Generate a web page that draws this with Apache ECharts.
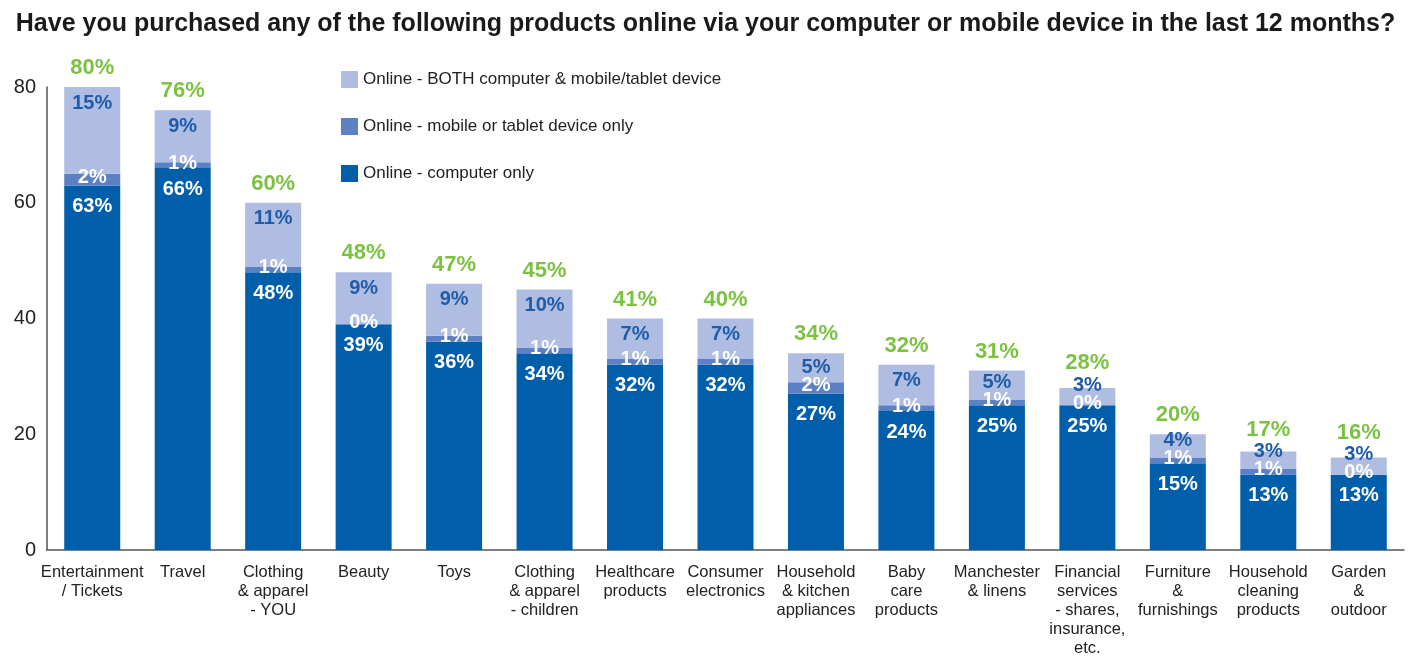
<!DOCTYPE html>
<html>
<head>
<meta charset="utf-8">
<script src="https://cdn.jsdelivr.net/npm/echarts@6/dist/echarts.min.js"></script>
<style>html,body{margin:0;padding:0;background:#fff}#c{width:1411px;height:660px}</style>
</head>
<body>
<div id="c"></div>
<script>
const categories = [
  'Entertainment\n/ Tickets', 'Travel', 'Clothing\n& apparel\n- YOU', 'Beauty', 'Toys',
  'Clothing\n& apparel\n- children', 'Healthcare\nproducts', 'Consumer\nelectronics',
  'Household\n& kitchen\nappliances', 'Baby\ncare\nproducts', 'Manchester\n& linens',
  'Financial\nservices\n- shares,\ninsurance,\netc.', 'Furniture\n&\nfurnishings',
  'Household\ncleaning\nproducts', 'Garden\n&\noutdoor'
];
const computerOnly = [63, 66, 48, 39, 36, 34, 32, 32, 27, 24, 25, 25, 15, 13, 13];
const mobileOnly   = [2, 1, 1, 0, 1, 1, 1, 1, 2, 1, 1, 0, 1, 1, 0];
const bothDevices  = [15, 9, 11, 9, 9, 10, 7, 7, 5, 7, 5, 3, 4, 3, 3];
const totals       = [80, 76, 60, 48, 47, 45, 41, 40, 34, 32, 31, 28, 20, 17, 16];
const yTicks = [0, 20, 40, 60, 80];

const NAME_BOTH = 'Online - BOTH computer & mobile/tablet device';
const NAME_MOB = 'Online - mobile or tablet device only';
const NAME_COMP = 'Online - computer only';

const FONT = '"Liberation Sans", Arial, Helvetica, sans-serif';
const GRID_TOP = 87, GRID_BOTTOM = 110;
const chart = echarts.init(document.getElementById('c'), null, {renderer: 'canvas'});

function ppu() {
  return (chart.getHeight() - GRID_TOP - GRID_BOTTOM) / yTicks[yTicks.length - 1];
}
// centre of the "mobile only" label, given the bottom of the light segment
function midLabel(lightBottom, i) {
  return lightBottom + mobileOnly[i] * ppu() / 2 - 2;
}
function lightCenter(top, h, i) {
  return Math.min(top + 16, midLabel(top + h, i) - 18);
}

const option = {
  animation: false,
  backgroundColor: '#ffffff',
  title: {
    text: 'Have you purchased any of the following products online via your computer or mobile device in the last 12 months?',
    left: 'center', top: 7,
    textStyle: {fontFamily: FONT, fontSize: 25, fontWeight: 'bold', color: '#1a1a1a'}
  },
  legend: {
    orient: 'vertical', left: 336, top: 66,
    itemWidth: 17, itemHeight: 17, itemGap: 30,
    icon: 'rect',
    data: [NAME_BOTH, NAME_MOB, NAME_COMP],
    textStyle: {fontFamily: FONT, fontSize: 17, color: '#222'}
  },
  grid: {left: 47, right: 7, top: GRID_TOP, bottom: GRID_BOTTOM, containLabel: false},
  xAxis: {
    type: 'category', data: categories,
    axisLine: {lineStyle: {color: '#555', width: 1.5}},
    axisTick: {show: false},
    axisLabel: {interval: 0, fontFamily: FONT, fontSize: 16.5, color: '#222', lineHeight: 19, margin: 13}
  },
  yAxis: {
    type: 'value', min: 0, max: yTicks[yTicks.length - 1], interval: 20,
    axisLine: {show: true, lineStyle: {color: '#555', width: 1.5}},
    axisTick: {show: false},
    splitLine: {show: false},
    axisLabel: {fontFamily: FONT, fontSize: 20, color: '#222', margin: 11}
  },
  series: [
    {
      name: NAME_COMP, type: 'bar', stack: 's', data: computerOnly, barWidth: 56,
      itemStyle: {color: '#005eab'},
      label: {show: true, position: 'insideTop', distance: 11, formatter: '{c}%',
        fontFamily: FONT, fontSize: 20, fontWeight: 'bold', color: '#ffffff'}
    },
    {
      name: NAME_MOB, type: 'bar', stack: 's', data: mobileOnly, barWidth: 56,
      itemStyle: {color: '#5b80c3'},
      label: {show: true, position: 'inside', formatter: '{c}%',
        fontFamily: FONT, fontSize: 20, fontWeight: 'bold', color: '#ffffff'},
      labelLayout: function (p) {
        const r = p.rect;
        return {x: r.x + r.width / 2, y: r.y + r.height / 2 - 2, align: 'center', verticalAlign: 'middle'};
      }
    },
    {
      name: NAME_BOTH, type: 'bar', stack: 's', data: bothDevices, barWidth: 56,
      itemStyle: {color: '#afbde3'},
      label: {show: true, position: 'insideTop', formatter: '{c}%',
        fontFamily: FONT, fontSize: 20, fontWeight: 'bold', color: '#1f5ca8'},
      labelLayout: function (p) {
        const r = p.rect;
        return {x: r.x + r.width / 2, y: lightCenter(r.y, r.height, p.dataIndex), align: 'center', verticalAlign: 'middle'};
      }
    },
    {
      name: 'Total', type: 'bar', stack: 's', barWidth: 56,
      data: totals.map(() => 0),
      itemStyle: {color: 'transparent'},
      label: {show: true, position: 'top',
        formatter: function (p) { return totals[p.dataIndex] + '%'; },
        fontFamily: FONT, fontSize: 22, fontWeight: 'bold', color: '#7cc242'},
      labelLayout: function (p) {
        const r = p.rect;
        const lh = bothDevices[p.dataIndex] * ppu();
        const lc = lightCenter(r.y, lh, p.dataIndex);
        return {x: r.x + r.width / 2, y: Math.min(r.y - 19, lc - 22), align: 'center', verticalAlign: 'middle'};
      }
    }
  ]
};
chart.setOption(option);
</script>
</body>
</html>
